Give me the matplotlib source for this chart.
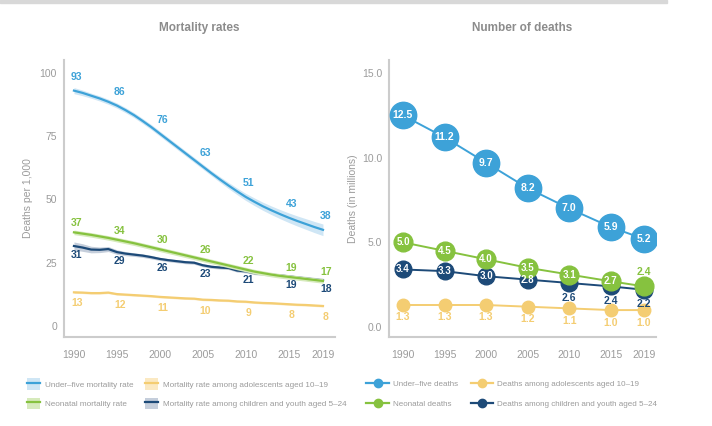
import numpy as np
import matplotlib
matplotlib.use('Agg')
import matplotlib.pyplot as plt
from matplotlib.lines import Line2D
from matplotlib.patches import Patch, Rectangle

plt.rcParams['font.family'] = ['Liberation Sans Narrow', 'Liberation Sans', 'DejaVu Sans']

# ---- data: mortality rates (deaths per 1,000), annual 1990-2019
years = list(range(1990, 2020))
under5_rate = [93.0, 92.1, 91.0, 89.9, 88.6, 87.1, 85.3, 83.3, 81.0, 78.6,
               76.0, 73.4, 70.8, 68.2, 65.6, 63.0, 60.4, 57.9, 55.5, 53.2,
               51.0, 49.1, 47.3, 45.7, 44.2, 42.8, 41.5, 40.3, 39.1, 38.0]
neonatal_rate = [37.0, 36.5, 36.0, 35.4, 34.8, 34.1, 33.4, 32.7, 31.9, 31.1,
                 30.3, 29.5, 28.7, 27.9, 27.1, 26.3, 25.5, 24.7, 23.9, 23.1,
                 22.3, 21.5, 20.9, 20.3, 19.8, 19.4, 19.0, 18.6, 18.2, 17.8]
adolescent_rate = [13.3, 13.2, 13.0, 13.0, 13.2, 12.6, 12.4, 12.2, 12.0, 11.8,
                   11.5, 11.3, 11.1, 10.9, 10.8, 10.4, 10.3, 10.1, 10.0, 9.7,
                   9.6, 9.3, 9.1, 9.0, 8.8, 8.6, 8.4, 8.3, 8.1, 7.9]
youth_rate = [31.6, 31.0, 30.2, 30.1, 30.4, 29.2, 28.6, 28.2, 27.8, 27.2,
              26.5, 26.0, 25.6, 25.2, 25.0, 24.0, 23.4, 23.1, 22.9, 21.9,
              21.6, 20.9, 20.6, 20.3, 20.0, 19.6, 19.2, 18.8, 18.4, 18.0]
# uncertainty half-widths
under5_unc = [1.2, 1.1, 1.0, 1.0, 1.0, 1.0, 1.0, 1.0, 1.0, 1.0,
              1.0, 1.0, 1.0, 1.0, 1.0, 1.0, 1.0, 1.1, 1.2, 1.3,
              1.4, 1.5, 1.6, 1.7, 1.8, 1.9, 2.0, 2.1, 2.2, 2.3]
neonatal_unc = 0.9
adolescent_unc = 0.4
youth_unc = [1.6, 1.5, 1.3, 1.1, 1.0, 0.9, 0.8, 0.7, 0.7, 0.7,
             0.6, 0.6, 0.6, 0.6, 0.6, 0.6, 0.6, 0.6, 0.6, 0.6,
             0.6, 0.6, 0.6, 0.6, 0.6, 0.7, 0.7, 0.8, 0.8, 0.9]

# labelled points
label_years = [1990, 1995, 2000, 2005, 2010, 2015, 2019]
under5_labels = [93, 86, 76, 63, 51, 43, 38]
neonatal_labels = [37, 34, 30, 26, 22, 19, 17]
adolescent_labels = [13, 12, 11, 10, 9, 8, 8]
youth_labels = [31, 29, 26, 23, 21, 19, 18]

# ---- data: number of deaths (millions)
under5_deaths = [12.5, 11.2, 9.7, 8.2, 7.0, 5.9, 5.2]
neonatal_deaths = [5.0, 4.5, 4.0, 3.5, 3.1, 2.7, 2.4]
youth_deaths = [3.4, 3.3, 3.0, 2.8, 2.6, 2.4, 2.2]
adolescent_deaths = [1.3, 1.3, 1.3, 1.2, 1.1, 1.0, 1.0]

BLUE = '#3da2d8'
GREEN = '#86c23f'
NAVY = '#1d4a78'
YELLOW = '#f4cd72'
BLUE_BAND = '#cfe6f5'
GREEN_BAND = '#d6eabc'
NAVY_BAND = '#c5cedb'
YELLOW_BAND = '#fbe9c2'
GREY_TXT = '#9b9b9b'
SPINE = '#cccccc'

fig = plt.figure(figsize=(7.12, 4.26), dpi=100)
fig.patches.append(Rectangle((0, 1 - 3 / 426), 667 / 712, 3 / 426,
                             transform=fig.transFigure, color='#d8d8d8', zorder=0))

ax1 = fig.add_axes([64 / 712, 1 - 337 / 426, 271 / 712, 277 / 426])
ax2 = fig.add_axes([389 / 712, 1 - 337 / 426, 267 / 712, 277 / 426])

for ax in (ax1, ax2):
    for s in ('top', 'right'):
        ax.spines[s].set_visible(False)
    for s in ('left', 'bottom'):
        ax.spines[s].set_color(SPINE)
        ax.spines[s].set_linewidth(1.5)
    ax.tick_params(length=0, colors=GREY_TXT, labelsize=7.5)
    ax.tick_params(axis='x', pad=9)
    ax.tick_params(axis='y', pad=5)
    ax.set_xticks(label_years)

# ---- left chart
yr = np.array(years)
series = [
    (under5_rate, under5_unc, BLUE, BLUE_BAND, under5_labels, 10, 4),
    (neonatal_rate, neonatal_unc, GREEN, GREEN_BAND, neonatal_labels, 6.5, 3),
    (youth_rate, youth_unc, NAVY, NAVY_BAND, youth_labels, -6.5, 2),
    (adolescent_rate, adolescent_unc, YELLOW, YELLOW_BAND, adolescent_labels, -8, 1),
]
for vals, unc, col, band, labs, dy, z in series:
    v = np.array(vals)
    u = np.array(unc)
    ax1.fill_between(yr, v - u, v + u, color=band, lw=0, zorder=z)
    ax1.plot(yr, v, color=col, lw=1.6, zorder=z + 0.5)
    for x, lab in zip(label_years, labs):
        yv = v[years.index(x)]
        ax1.annotate(str(lab), (x, yv), xytext=(2, dy), textcoords='offset points',
                     ha='center', va='center', color=col, fontsize=7.5,
                     fontweight='bold', zorder=10)

ax1.set_xlim(1988.84, 2020.4)
ax1.set_ylim(-4.35, 105.1)
ax1.set_yticks([0, 25, 50, 75, 100])
ax1.set_ylabel('Deaths per 1,000', color=GREY_TXT, fontsize=7.5, labelpad=5)
ax1.set_title('Mortality rates', color='#8c8c8c', fontsize=8.5,
              fontweight='bold', pad=21)

# ---- right chart
ax2.plot(label_years, adolescent_deaths, color=YELLOW, lw=1.4, marker='o',
         ms=9, zorder=2)
ax2.plot(label_years, youth_deaths, color=NAVY, lw=1.4, marker='o',
         ms=12, zorder=3)
ax2.plot(label_years, neonatal_deaths, color=GREEN, lw=1.4, marker='o',
         ms=13.5, zorder=4)
ax2.plot(label_years, under5_deaths, color=BLUE, lw=1.4, marker='o',
         ms=19, zorder=5)

for x, v in zip(label_years, under5_deaths):
    ax2.text(x, v, f'{v:.1f}', ha='center', va='center', color='white',
             fontsize=7.5, fontweight='bold', zorder=6)
for i, (x, v) in enumerate(zip(label_years, neonatal_deaths)):
    if i < 6:
        ax2.text(x, v, f'{v:.1f}', ha='center', va='center', color='white',
                 fontsize=7, fontweight='bold', zorder=6)
    else:
        ax2.annotate(f'{v:.1f}', (x, v), xytext=(0, 10), textcoords='offset points',
                     ha='center', va='center', color=GREEN, fontsize=7.5,
                     fontweight='bold', zorder=6)
for i, (x, v) in enumerate(zip(label_years, youth_deaths)):
    if i < 4:
        ax2.text(x, v, f'{v:.1f}', ha='center', va='center', color='white',
                 fontsize=7, fontweight='bold', zorder=6)
    else:
        ax2.annotate(f'{v:.1f}', (x, v), xytext=(0, -10.5), textcoords='offset points',
                     ha='center', va='center', color=NAVY, fontsize=7.5,
                     fontweight='bold', zorder=6)
for x, v in zip(label_years, adolescent_deaths):
    ax2.annotate(f'{v:.1f}', (x, v), xytext=(0, -9), textcoords='offset points',
                 ha='center', va='center', color=YELLOW, fontsize=7.5,
                 fontweight='bold', zorder=6)

ax2.set_xlim(1988.32, 2020.44)
ax2.set_ylim(-0.59, 15.77)
ax2.set_yticks([0, 5, 10, 15])
ax2.set_yticklabels(['0.0', '5.0', '10.0', '15.0'])
ax2.set_ylabel('Deaths (in millions)', color=GREY_TXT, fontsize=7.5, labelpad=3)
ax2.set_title('Number of deaths', color='#8c8c8c', fontsize=8.5,
              fontweight='bold', pad=21)

# ---- legends
def band_handle(col, band):
    return (Patch(facecolor=band, edgecolor='none'), Line2D([], [], color=col, lw=1.6))

left_handles = [band_handle(BLUE, BLUE_BAND), band_handle(GREEN, GREEN_BAND),
                band_handle(YELLOW, YELLOW_BAND), band_handle(NAVY, NAVY_BAND)]
left_labels = ['Under\u2013five mortality rate', 'Neonatal mortality rate',
               'Mortality rate among adolescents aged 10\u201319',
               'Mortality rate among children and youth aged 5\u201324']
fig.legend(left_handles, left_labels, ncol=2, loc='upper left',
           bbox_to_anchor=(20 / 712, 1 - 371 / 426), frameon=False,
           fontsize=5.9, labelcolor=GREY_TXT, handlelength=1.6, handleheight=1.8,
           handletextpad=0.6, columnspacing=1.4, labelspacing=0.95)

def dot_handle(col):
    return Line2D([], [], color=col, lw=1.6, marker='o', ms=6)

right_handles = [dot_handle(BLUE), dot_handle(GREEN), dot_handle(YELLOW), dot_handle(NAVY)]
right_labels = ['Under\u2013five deaths', 'Neonatal deaths',
                'Deaths among adolescents aged 10\u201319',
                'Deaths among children and youth aged 5\u201324']
fig.legend(right_handles, right_labels, ncol=2, loc='upper left',
           bbox_to_anchor=(359 / 712, 1 - 373 / 426), frameon=False,
           fontsize=5.8, labelcolor=GREY_TXT, handlelength=2.8,
           handletextpad=0.5, columnspacing=1.6, labelspacing=1.5)

fig.savefig('out.png', dpi=100)
